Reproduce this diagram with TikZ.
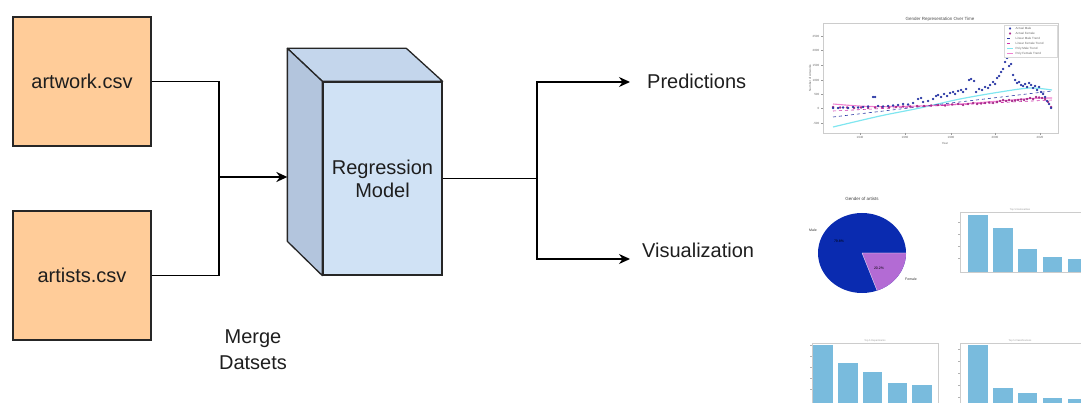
\documentclass[tikz,border=0pt]{standalone}
\usepackage{fontspec}
\setmainfont{Liberation Sans}
\usetikzlibrary{arrows.meta,calc}
\definecolor{boxfill}{HTML}{FFCC99}
\definecolor{frontf}{HTML}{D0E2F5}
\definecolor{topf}{HTML}{C4D6EC}
\definecolor{sidef}{HTML}{B3C5DD}
\definecolor{txt}{HTML}{1E1E1E}
\definecolor{malec}{HTML}{3344CC}
\definecolor{femc}{HTML}{CC33AA}
\definecolor{cyanl}{HTML}{80E6F0}
\definecolor{pinkl}{HTML}{F080D0}
\definecolor{piemale}{HTML}{0A2BB0}
\definecolor{piefem}{HTML}{B36BD4}
\definecolor{barc}{HTML}{79BBDD}
\begin{document}
\begin{tikzpicture}[x=1pt,y=-1pt,
  font=\fontsize{20}{23}\selectfont,
  filebox/.style={draw=black!85, line width=1.3pt, fill=boxfill, minimum width=138pt, minimum height=129pt, text=txt, inner sep=0pt},
  link/.style={line width=1.3pt, draw=black},
  tip/.style={-{Stealth[length=11pt,width=10pt]}},
  lbl/.style={text=txt, align=center},
  tiny/.style={font=\fontsize{3}{3.5}\selectfont, text=black!60, inner sep=0.5pt},
  frame/.style={draw=black!20, line width=0.4pt},
  mdot/.style={fill=malec, draw=malec!70!black, line width=0.2pt},
  fdot/.style={fill=femc, draw=femc!70!black, line width=0.2pt},
  bar/.style={fill=barc}]
\useasboundingbox (0,0) rectangle (1081,403);

% input files
\node[filebox] (artwork) at (82,81.5) {artwork.csv};
\node[filebox] (artists) at (82,275.5) {artists.csv};

% cuboid
\node[draw=black!85, line width=1.3pt, fill=frontf, minimum width=119pt, minimum height=193pt, inner sep=0pt, lbl] (model) at (382.5,178.5) {Regression\\Model};
\draw[line width=1.3pt, draw=black!85, fill=topf, line join=round] (model.north west) -- ++(-35,-33) -- ++(119,0) -- (model.north east) -- cycle;
\draw[line width=1.3pt, draw=black!85, fill=sidef, line join=round] (model.north west) -- ++(-35,-33) -- ++(0,193) -- (model.south west) -- cycle;
\coordinate (back) at ($(model.west)+(-35,0)$);

% merge connector
\coordinate (jin) at (219,177);
\draw[link] (artwork.east) -| (jin) |- (artists.east);
\draw[link, line width=2pt, tip] (jin) -- (jin -| back);
\node[lbl] (merge) at (253,350) {Merge\\[3pt]Datsets};

% outputs
\node[lbl, anchor=west, inner xsep=17pt, inner ysep=0pt] (pred) at (630,81) {Predictions};
\node[lbl, anchor=west, inner xsep=12pt, inner ysep=0pt] (vis) at (630,250) {Visualization};
\coordinate (jout) at (537,178.5);
\draw[link] (model.east) -- (jout);
\draw[link, tip] (jout) |- ($(pred.west)+(0,1)$);
\draw[link, tip] (jout) |- ($(vis.west)+(0,9)$);

% ---------- line chart ----------
\draw[frame] (823,23) rectangle (1058,133);
\node[font=\fontsize{4.5}{5}\selectfont, text=black!70] at (940,19) {Gender Representation Over Time};
\foreach \v/\y in {2500/36,2000/50,1500/65,1000/80,500/94,0/108,-500/123}{
  \draw[black!40, line width=0.3pt] (821,\y) -- (823,\y);
  \node[tiny, anchor=east] at (820,\y) {\v};
}
\foreach \v/\x in {1940/860,1960/905,1980/951,2000/995,2020/1040}{
  \draw[black!40, line width=0.3pt] (\x,133) -- (\x,135);
  \node[tiny, anchor=north] at (\x,136) {\v};
}
\node[tiny] at (945,143) {Year};
\node[tiny, rotate=90] at (810,78) {Number of Artworks};
% trend lines
\draw[cyanl, line width=1.2pt] plot[smooth] coordinates {(833,127) (880,116) (920,108) (960,99) (1000,92) (1030,88) (1052,90)};
\draw[pinkl, line width=1.1pt] plot[smooth] coordinates {(833,104) (870,106.5) (920,106) (960,104) (1000,101) (1030,98.5) (1052,98)};
\draw[malec!80!black, line width=0.6pt, dashed] (833,117) -- (1052,91);
\draw[femc, line width=0.6pt, dashed] (833,111) -- (1052,100);
% female actual
\foreach \x/\y in {833/107,840/107.5,847/107.5,854/108,861/107.5,868/108,875/107.5,882/107,889/107.5,896/107,903/106.5,910/106.5,917/106,924/106,931/105.5,938/105,945/105.5,952/104.5,958/104,963/105,968/104,973/103,977/104,981/103.5,985/103,989/102.5,993/103,997/102,1000/101,1003/100,1006/101,1009/100,1012/101,1015/100.5,1018/100,1021/99.5,1024/100,1027/99,1030/98,1033/99,1036/97,1039/97.5,1042/98,1045/99,1048/102,1051/107}
  \draw[fdot] (\x,\y) circle[radius=1.1];
% male actual
\foreach \x/\y in {833/108,838/108,843/107.5,848/108,853/107,858/107.5,863/107,868/106.5,873/97,875/97,878/106,883/106.5,888/106,893/105.5,898/105,903/104,908/104.5,913/103,918/99,921/98,923/102,928/101,933/99,936/96,938/95,941/97,944/94,947/96,950/93,953/92,955/94,958/91,961/90,963/92,966/89,969/80,971/79,974/81,976/92,979/89,982/90,985/87,988/88,990/85,993/82,995/84,997/78,999/76,1001/72,1003/69,1005/62,1007/58,1009/66,1011/64,1013/75,1015/80,1017/83,1019/82,1021/85,1023/86,1025/84,1027/87,1029/83,1031/85,1033/88,1035/86,1037/90,1039/87,1041/92,1043/94,1045/97,1047/101,1049/104,1051/108}
  \draw[mdot] (\x,\y) circle[radius=1.1];
% legend
\draw[draw=black!15, fill=white, fill opacity=0.85, line width=0.3pt] (1004,25) rectangle (1057,57);
\draw[mdot] (1010,28.5) circle[radius=1];
\node[tiny, anchor=west] at (1015,28.5) {Actual Male};
\draw[fdot] (1010,33.5) circle[radius=1];
\node[tiny, anchor=west] at (1015,33.5) {Actual Female};
\draw[malec!80!black, line width=0.5pt, dashed] (1007,38.5) -- (1013,38.5);
\node[tiny, anchor=west] at (1015,38.5) {Linear Male Trend};
\draw[femc, line width=0.5pt, dashed] (1007,43.5) -- (1013,43.5);
\node[tiny, anchor=west] at (1015,43.5) {Linear Female Trend};
\draw[cyanl, line width=0.8pt] (1007,48.5) -- (1013,48.5);
\node[tiny, anchor=west] at (1015,48.5) {Poly Male Trend};
\draw[pinkl, line width=0.8pt] (1007,53.5) -- (1013,53.5);
\node[tiny, anchor=west] at (1015,53.5) {Poly Female Trend};

% ---------- pie chart ----------
\node[font=\fontsize{4.5}{5}\selectfont, text=black!75] at (862,199) {Gender of artists};
\fill[piemale] (862,253) ellipse [x radius=44, y radius=40];
\fill[piefem] (862,253) -- plot[domain=0:70, samples=30] ({862+44*cos(\x)},{253+40*sin(\x)}) -- cycle;
\draw[white, line width=0.3pt] (862,253) -- (906,253) (862,253) -- ({862+44*cos(70)},{253+40*sin(70)});
\node[tiny, text=black!80, font=\fontsize{3.5}{4}\selectfont] at (813,230) {Male};
\node[tiny, text=black!80, font=\fontsize{3.5}{4}\selectfont] at (911,279) {Female};
\node[tiny, text=black, font=\fontsize{3.5}{4}\selectfont] at (839,241) {79.8\%};
\node[tiny, text=black, font=\fontsize{3.5}{4}\selectfont] at (879,268) {20.2\%};

% ---------- bar chart 1 ----------
\draw[frame] (960,212) -- (960,272) -- (1090,272);
\draw[frame] (960,212) -- (1090,212);
\node[tiny, font=\fontsize{2.5}{3}\selectfont, text=black!40] at (1020,209.5) {Top 5 Nationalities};
\foreach \y in {222,234,246,258}{\draw[black!30, line width=0.3pt] (958,\y) -- (960,\y);}
\fill[bar] (968,215) rectangle (988,272);
\fill[bar] (993,228) rectangle (1013,272);
\fill[bar] (1018,249) rectangle (1037,272);
\fill[bar] (1043,257) rectangle (1062,272);
\fill[bar] (1068,259) rectangle (1087,272);

% ---------- bar chart 2 ----------
\draw[frame] (812,343) rectangle (938,410);
\node[tiny, font=\fontsize{2.5}{3}\selectfont, text=black!40] at (875,340.5) {Top 5 Departments};
\foreach \y in {345,356,367,378,389}{\draw[black!30, line width=0.3pt] (810,\y) -- (812,\y);}
\fill[bar] (813,345) rectangle (833,410);
\fill[bar] (838,363) rectangle (858,410);
\fill[bar] (863,372) rectangle (882,410);
\fill[bar] (888,383) rectangle (907,410);
\fill[bar] (912,385) rectangle (932,410);

% ---------- bar chart 3 ----------
\draw[frame] (960,343) -- (960,410);
\draw[frame] (960,343) -- (1090,343);
\node[tiny, font=\fontsize{2.5}{3}\selectfont, text=black!40] at (1020,340.5) {Top 5 Classifications};
\foreach \y in {349,361,373,385,397}{\draw[black!30, line width=0.3pt] (958,\y) -- (960,\y);}
\fill[bar] (968,345) rectangle (988,410);
\fill[bar] (993,388) rectangle (1013,410);
\fill[bar] (1018,393) rectangle (1037,410);
\fill[bar] (1043,398) rectangle (1062,410);
\fill[bar] (1068,399) rectangle (1087,410);
\end{tikzpicture}
\end{document}
